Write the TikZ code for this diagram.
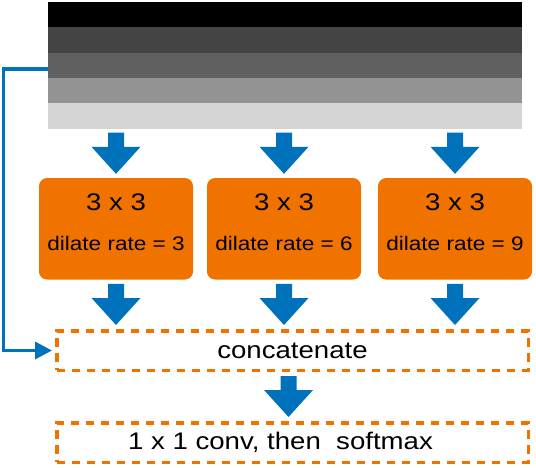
\documentclass[tikz,border=0pt]{standalone}
\usepackage{fontspec}
\setmainfont{Liberation Sans}[FakeStretch=1.15]
\usetikzlibrary{arrows.meta,calc}
\definecolor{barA}{HTML}{000000}
\definecolor{barB}{HTML}{444444}
\definecolor{barC}{HTML}{606060}
\definecolor{barD}{HTML}{939393}
\definecolor{barE}{HTML}{D5D5D5}
\definecolor{convorange}{HTML}{F07300}
\definecolor{flowblue}{HTML}{0072BB}

% fat blue arrow from #1 down to #2
\newcommand{\blockarrow}[2]{%
  \fill[flowblue] ($(#1)+(-8,4)$) -- ($(#2)+(-8,-31)$) -- ($(#2)+(-24.5,-31)$)
    -- ($(#2)+(0,-4)$) -- ($(#2)+(24.5,-31)$) -- ($(#2)+(8,-31)$)
    -- ($(#1)+(8,4)$) -- cycle;}

\begin{document}
\begin{tikzpicture}[x=1pt,y=-1pt,
  stripe/.style={minimum width=474pt,minimum height=25.4pt,inner sep=0pt},
  dilbox/.style={fill=convorange,rounded corners=8pt,minimum width=154pt,
    minimum height=101.5pt,inner sep=0pt,align=center,
    font=\fontsize{24}{40}\selectfont,text depth=12.8pt},
  dashbox/.style={draw=convorange,line width=3.5pt,dash pattern=on 8.5pt off 6.5pt,
    minimum width=471.5pt,minimum height=39.5pt,inner sep=0pt,
    font=\fontsize{24}{28}\selectfont},
  skipline/.style={draw=flowblue,line width=3.4pt,
    -{Triangle[length=17pt,width=17pt]}}]
  \useasboundingbox (0,0) rectangle (536,468);

  % feature map
  \foreach \c [count=\i] in {barA,barB,barC,barD,barE}
    \node[stripe,fill=\c] (s\i) at (285,{2+25.3*(\i-0.5)}) {};

  % dilated convolutions
  \node[dilbox] (r3) at (116,228.8) {3 x 3\\{\fontsize{19.6}{40}\selectfont dilate rate = 3}};
  \node[dilbox] (r6) at (284,228.8) {3 x 3\\{\fontsize{19.6}{40}\selectfont dilate rate = 6}};
  \node[dilbox] (r9) at (455,228.8) {3 x 3\\{\fontsize{19.6}{40}\selectfont dilate rate = 9}};

  \node[dashbox] (cat) at (292.5,350.5) {concatenate};
  \node[dashbox] (out) at (292.5,442.5) {1 x 1 conv, then\ \ softmax\hspace*{24pt}};

  \foreach \b in {r3,r6,r9} {
    \coordinate (\b top) at (s5.south -| \b.north);
    \coordinate (\b bot) at (cat.north -| \b.south);
    \blockarrow{\b top}{\b.north}
    \blockarrow{\b.south}{\b bot}
  }
  \coordinate (cattop) at (288.5,372);
  \coordinate (outtop) at (out.north -| cattop);
  \blockarrow{cattop}{outtop}

  \draw[skipline,shorten >=3pt] ([yshift=-3.6pt]s3.west) -- ++(-44.5,0) |- (cat.west);
\end{tikzpicture}
\end{document}
